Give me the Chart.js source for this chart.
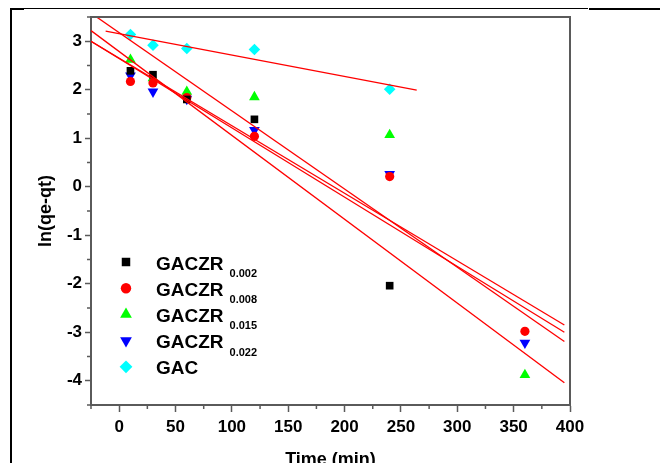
<!DOCTYPE html>
<html>
<head>
<meta charset="utf-8">
<script src="https://cdn.jsdelivr.net/npm/chart.js@4/dist/chart.umd.min.js"></script>
<style>
  html, body { margin: 0; padding: 0; background: #fff; overflow: hidden; }
  #wrap { position: relative; width: 660px; height: 480px; }
  canvas { position: absolute; left: 0; top: 0; }
  .rule { position: absolute; background: #000; }
</style>
</head>
<body>
<div id="wrap">
  <canvas id="c" width="660" height="480"></canvas>
  <div class="rule" style="left:10px;top:8px;width:2px;height:472px"></div>
  <div class="rule" style="left:10px;top:8px;width:578px;height:1px"></div>
  <div class="rule" style="left:11px;top:8px;width:13px;height:2px"></div>
  <div class="rule" style="left:589px;top:8px;width:71px;height:2px"></div>
</div>
<script>
// Sampling times (min)
const times = [10, 30, 60, 120, 240, 360];

// ln(qe - qt) for each adsorbent
const gaczr002 = [2.39, 2.31, 1.80, 1.39, -2.04, null];
const gaczr008 = [2.17, 2.14, 1.84, 1.04, 0.21, -2.98];
const gaczr015 = [2.62, 2.24, 1.96, 1.85, 1.07, -3.88];
const gaczr022 = [2.29, 1.96, 1.81, 1.17, 0.26, -3.22];
const gac      = [3.14, 2.92, 2.85, 2.83, 2.01, null];

// Pseudo-first-order fit lines: start/end times and values
const fitSpan    = [-25, 395];
const fit002     = [3.58, -3.19];
const fit008     = [3.00, -2.85];
const fit015     = [3.22, -4.04];
const fit022     = [3.00, -3.00];
const gacFitSpan = [-12, 264];
const fitGac     = [3.21, 1.99];

// Axis ticks (labelled) and minor ticks
const xTicks = [0, 50, 100, 150, 200, 250, 300, 350, 400];
const yTicks = [-4, -3, -2, -1, 0, 1, 2, 3];
const xMinor = [-25, 25, 75, 125, 175, 225, 275, 325, 375];
const yMinor = [-4.5, -3.5, -2.5, -1.5, -0.5, 0.5, 1.5, 2.5, 3.5];

// Legend names with subscripts
const seriesNames = ['GACZR', 'GACZR', 'GACZR', 'GACZR', 'GAC'];
const seriesSubs  = ['0.002', '0.008', '0.015', '0.022', ''];

const FONT = '"Liberation Sans", Arial, sans-serif';
const AXIS = '#5a5a5a';

const pts = (xs, ys) => xs.map((x, i) => ({ x: x, y: ys[i] })).filter(p => p.y !== null);

function markerSet(label, ys, color, style, radius, rotation) {
  return {
    type: 'scatter', label: label, data: pts(times, ys),
    backgroundColor: color, borderColor: color, borderWidth: 0,
    pointStyle: style, pointRadius: radius, pointRotation: rotation || 0,
    showLine: false, order: 2
  };
}
function fitSet(xs, ys) {
  return {
    type: 'line', data: pts(xs, ys), borderColor: '#ff0000', borderWidth: 1.3,
    pointRadius: 0, showLine: true, fill: false, order: 1
  };
}

const markers = [
  markerSet('GACZR0.002', gaczr002, '#000000', 'rect', 5.4),
  markerSet('GACZR0.008', gaczr008, '#ff0000', 'circle', 4.6),
  markerSet('GACZR0.015', gaczr015, '#00ff00', 'triangle', 6.2),
  markerSet('GACZR0.022', gaczr022, '#0000ff', 'triangle', 6.2, 180),
  markerSet('GAC', gac, '#00ffff', 'rectRot', 5.8)
];

const fits = [
  fitSet(fitSpan, fit002),
  fitSet(fitSpan, fit008),
  fitSet(fitSpan, fit015),
  fitSet(fitSpan, fit022),
  fitSet(gacFitSpan, fitGac)
];

// Frame on top/right plus minor tick marks on both axes
const framePlugin = {
  id: 'frame',
  afterDraw(chart) {
    const { ctx, chartArea: a, scales } = chart;
    ctx.save();
    ctx.strokeStyle = AXIS;
    ctx.lineWidth = 2;
    ctx.beginPath();
    ctx.moveTo(a.left, a.top); ctx.lineTo(a.right, a.top); ctx.lineTo(a.right, a.bottom);
    ctx.stroke();
    ctx.lineWidth = 1.5;
    ctx.beginPath();
    xMinor.forEach(v => {
      const px = scales.x.getPixelForValue(v);
      ctx.moveTo(px, a.bottom); ctx.lineTo(px, a.bottom + 4);
    });
    yMinor.forEach(v => {
      const py = scales.y.getPixelForValue(v);
      ctx.moveTo(a.left, py); ctx.lineTo(a.left - 4, py);
    });
    ctx.stroke();
    ctx.restore();
  }
};

// Legend inside the plot with subscripted sample names
const legendPlugin = {
  id: 'subLegend',
  afterDraw(chart) {
    const ctx = chart.ctx;
    const x0 = 126, y0 = 262, step = 26.2;
    ctx.save();
    markers.forEach((ds, i) => {
      const y = y0 + i * step;
      ctx.fillStyle = ds.backgroundColor;
      ctx.strokeStyle = ds.backgroundColor;
      Chart.helpers.drawPoint(ctx, {
        pointStyle: ds.pointStyle, radius: ds.pointRadius + 0.6,
        rotation: ds.pointRotation, borderWidth: 0
      }, x0, y);
      ctx.fillStyle = '#000';
      ctx.textAlign = 'left';
      ctx.textBaseline = 'alphabetic';
      ctx.font = 'bold 19px ' + FONT;
      ctx.fillText(seriesNames[i], 156, y + 7.5);
      if (seriesSubs[i]) {
        const w = ctx.measureText(seriesNames[i]).width;
        ctx.font = 'bold 11px ' + FONT;
        ctx.fillText(seriesSubs[i], 156 + w + 6, y + 15);
      }
    });
    ctx.restore();
  }
};

const fixedTicks = values => scale => { scale.ticks = values.map(v => ({ value: v })); };

new Chart(document.getElementById('c'), {
  data: { datasets: markers.concat(fits) },
  options: {
    responsive: false,
    devicePixelRatio: 1,
    animation: false,
    layout: { padding: { left: 0, top: 17, right: 90, bottom: 0 } },
    plugins: { legend: { display: false }, tooltip: { enabled: false } },
    scales: {
      x: {
        type: 'linear', min: -25, max: 400,
        afterBuildTicks: fixedTicks(xTicks),
        afterFit(s) { s.height = 75; },
        ticks: {
          padding: 5, color: '#000',
          font: { family: FONT, size: 17, weight: 'bold' }
        },
        grid: { drawOnChartArea: false, tickLength: 7, tickWidth: 1.5, tickColor: AXIS },
        border: { color: AXIS, width: 2 },
        title: {
          display: true, text: 'Time (min)', color: '#000',
          font: { family: FONT, size: 18, weight: 'bold' },
          padding: { top: 0, bottom: 9 }
        }
      },
      y: {
        type: 'linear', min: -4.5, max: 3.5,
        afterBuildTicks: fixedTicks(yTicks),
        afterFit(s) { s.width = 91; },
        ticks: {
          padding: 3, color: '#000',
          font: { family: FONT, size: 17, weight: 'bold' }
        },
        grid: { drawOnChartArea: false, tickLength: 6, tickWidth: 1.5, tickColor: AXIS },
        border: { color: AXIS, width: 2 },
        title: {
          display: true, text: 'ln(qe-qt)', color: '#000',
          font: { family: FONT, size: 18, weight: 'bold' },
          padding: { top: 35, bottom: 0 }
        }
      }
    }
  },
  plugins: [framePlugin, legendPlugin]
});
</script>
</body>
</html>
